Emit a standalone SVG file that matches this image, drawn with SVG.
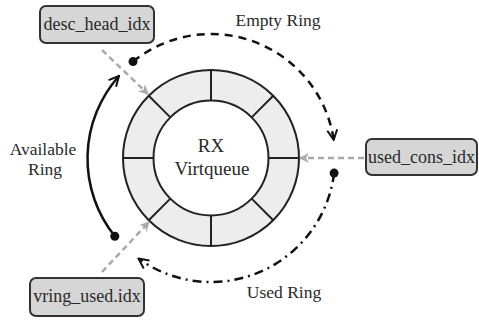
<svg xmlns="http://www.w3.org/2000/svg" width="479" height="320" viewBox="0 0 479 320">
<style>
text{font-family:"Liberation Serif","DejaVu Serif",serif;fill:#2a2a2a;text-anchor:middle}
.lbl{font-size:17.5px}
.box rect{fill:#d6d6d6;stroke:#333;stroke-width:2}
.box text{font-size:18px}
.arc{fill:none;stroke:#111;stroke-width:2.5}
.ptr{fill:none;stroke:#aaa;stroke-width:2.5;stroke-dasharray:6 4}
</style>
<defs>
<marker id="chev" viewBox="0 0 10 10" refX="9" refY="5" markerWidth="5" markerHeight="5" orient="auto" markerUnits="strokeWidth">
<path d="M1,1 L9,5 L1,9" fill="none" stroke="#111" stroke-width="1.6"/>
</marker>
<marker id="gra" viewBox="0 0 10 10" refX="9" refY="5" markerWidth="4" markerHeight="4" orient="auto" markerUnits="strokeWidth">
<path d="M0,0 L10,5 L0,10 L3,5 Z" fill="#aaa"/>
</marker>
</defs>
<g id="ring">
<circle cx="211" cy="158" r="88" fill="#ededed" stroke="#222" stroke-width="2"/>
<circle cx="211" cy="158" r="57.5" fill="#fff" stroke="#222" stroke-width="2"/>
<g transform="translate(211,158)" stroke="#222" stroke-width="2">
<line x1="57.5" y1="0" x2="88" y2="0"/>
<line x1="57.5" y1="0" x2="88" y2="0" transform="rotate(45)"/>
<line x1="57.5" y1="0" x2="88" y2="0" transform="rotate(90)"/>
<line x1="57.5" y1="0" x2="88" y2="0" transform="rotate(135)"/>
<line x1="57.5" y1="0" x2="88" y2="0" transform="rotate(180)"/>
<line x1="57.5" y1="0" x2="88" y2="0" transform="rotate(225)"/>
<line x1="57.5" y1="0" x2="88" y2="0" transform="rotate(270)"/>
<line x1="57.5" y1="0" x2="88" y2="0" transform="rotate(315)"/>
</g>
<text x="211" y="152" style="font-size:19px">RX</text>
<text x="212" y="175" style="font-size:19px">Virtqueue</text>
</g>
<g id="desc_head_idx" class="box">
<rect x="40" y="6" width="114" height="37" rx="6"/>
<text x="97" y="30">desc_head_idx</text>
</g>
<g id="used_cons_idx" class="box">
<rect x="366" y="139" width="111" height="36" rx="6"/>
<text x="421.5" y="163">used_cons_idx</text>
</g>
<g id="vring_used_idx" class="box">
<rect x="30" y="278" width="114" height="38" rx="6"/>
<text x="87" y="302">vring_used.idx</text>
</g>
<g id="labels">
<text class="lbl" x="278" y="26">Empty Ring</text>
<text class="lbl" x="43" y="155">Available</text>
<text class="lbl" x="45" y="175">Ring</text>
<text class="lbl" x="284" y="298">Used Ring</text>
</g>
<g id="connectors">
<path class="arc" d="M133,61.6 A124,124 0 0 1 333.7,139.9" stroke-dasharray="8 6" marker-end="url(#chev)"/>
<circle cx="133" cy="61.6" r="4.5" fill="#111"/>
<path class="arc" d="M334.1,173.1 A124,124 0 0 1 138.5,258.6" stroke-dasharray="9 5 2 5" marker-end="url(#chev)"/>
<circle cx="334.1" cy="173.1" r="4.5" fill="#111"/>
<path class="arc" d="M114.8,236.2 A124,124 0 0 1 119,76" marker-end="url(#chev)"/>
<circle cx="114.8" cy="236.2" r="4.5" fill="#111"/>
<line class="ptr" x1="102" y1="50" x2="148" y2="94" marker-end="url(#gra)"/>
<line class="ptr" x1="364" y1="158" x2="300" y2="158" marker-end="url(#gra)"/>
<line class="ptr" x1="102" y1="272" x2="149" y2="222" marker-end="url(#gra)"/>
</g>
</svg>
